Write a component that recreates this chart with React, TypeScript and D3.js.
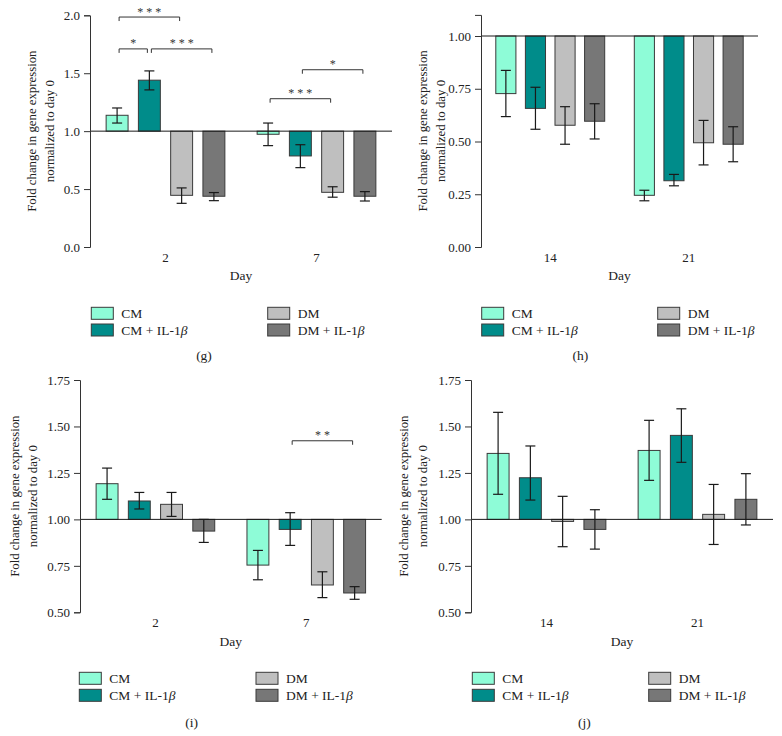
import React, { useEffect, useRef } from "react";
import * as d3 from "d3";

const FONT = "'Liberation Serif', 'Times New Roman', serif";

const seriesNames = ["CM", "CM + IL-1β", "DM", "DM + IL-1β"];
const seriesColors = ["#8efcd7", "#008c8a", "#bfbfbf", "#777777"];

// Panel (g)
const daysG = ["2", "7"];
const meanG = [[1.137, 1.44, 0.446, 0.438], [0.973, 0.786, 0.472, 0.438]];
const hiG = [[1.2, 1.52, 0.51, 0.47], [1.07, 0.883, 0.52, 0.478]];
const loG = [[1.07, 1.356, 0.377, 0.4], [0.875, 0.685, 0.43, 0.397]];
const ticksG = [0, 0.5, 1, 1.5, 2];
const bracketsG = [
  { day: 0, from: 0, to: 2, level: 1.985, label: "***" },
  { day: 0, from: 0, to: 1, level: 1.71, label: "*" },
  { day: 0, from: 1, to: 3, level: 1.71, label: "***" },
  { day: 1, from: 1, to: 3, level: 1.53, label: "*" },
  { day: 1, from: 0, to: 2, level: 1.28, label: "***" },
];

// Panel (h)
const daysH = ["14", "21"];
const meanH = [[0.727, 0.657, 0.577, 0.596], [0.245, 0.314, 0.494, 0.487]];
const hiH = [[0.837, 0.757, 0.665, 0.679], [0.269, 0.344, 0.6, 0.57]];
const loH = [[0.618, 0.558, 0.487, 0.512], [0.219, 0.29, 0.389, 0.404]];
const ticksH = [0, 0.25, 0.5, 0.75, 1];

// Panel (i)
const daysI = ["2", "7"];
const meanI = [[1.192, 1.099, 1.081, 0.937], [0.754, 0.946, 0.647, 0.604]];
const hiI = [[1.276, 1.145, 1.145, 1.0], [0.833, 1.036, 0.718, 0.638]];
const loI = [[1.108, 1.056, 1.016, 0.876], [0.675, 0.86, 0.579, 0.57]];
const ticksIJ = [0.5, 0.75, 1, 1.25, 1.5, 1.75];
const bracketsI = [{ day: 1, from: 1, to: 3, level: 1.423, label: "**" }];

// Panel (j)
const daysJ = ["14", "21"];
const meanJ = [[1.355, 1.224, 0.989, 0.946], [1.371, 1.452, 1.027, 1.108]];
const hiJ = [[1.576, 1.395, 1.124, 1.052], [1.533, 1.595, 1.188, 1.246]];
const loJ = [[1.135, 1.104, 0.853, 0.84], [1.21, 1.307, 0.865, 0.97]];

type Bracket = { day: number; from: number; to: number; level: number; label: string };

type PanelProps = {
  tag: string;
  days: string[];
  mean: number[][];
  hi: number[][];
  lo: number[][];
  ticks: number[];
  fmt: string;
  domain: [number, number];
  brackets: Bracket[];
  xr: [number, number];
  yr: [number, number];
  titleDx: [number, number];
  legendCols: [number, number];
  legendRows: [number, number];
  labelPos: [number, number];
};

function Panel(p: PanelProps) {
  const axisRef = useRef<SVGGElement>(null);
  const x = d3.scaleBand<string>().domain(p.days).range(p.xr).paddingInner(0).paddingOuter(0);
  const inner = d3
    .scaleBand<string>()
    .domain(seriesNames)
    .range([0, x.bandwidth()])
    .paddingInner(0.32)
    .paddingOuter(0.5);
  const y = d3.scaleLinear().domain(p.domain).range(p.yr);
  const bw = inner.bandwidth();
  const base = y(1);

  useEffect(() => {
    if (!axisRef.current) return;
    const g = d3.select(axisRef.current);
    g.selectAll("*").remove();
    g.call(
      d3
        .axisLeft(y)
        .tickValues(p.ticks)
        .tickFormat(d3.format(p.fmt) as any)
        .tickSizeOuter(0)
        .tickSize(6)
        .tickPadding(4)
    );
    g.attr("font-family", FONT).attr("font-size", 13);
    g.select(".domain").attr("stroke", "#333").attr("stroke-width", 1);
    g.selectAll(".tick line").attr("stroke", "#333");
    g.selectAll(".tick text").attr("fill", "#222");
  }, []);

  const cx = (d: number, s: number) => (x(p.days[d]) as number) + (inner(seriesNames[s]) as number) + bw / 2;
  const midY = (p.yr[0] + p.yr[1]) / 2;
  const midX = (p.xr[0] + p.xr[1]) / 2;

  return (
    <g>
      {p.days.map((day, di) =>
        seriesNames.map((s, si) => {
          const v = p.mean[di][si];
          const yv = y(v);
          const x0 = (x(day) as number) + (inner(s) as number);
          return (
            <rect
              key={day + s}
              x={x0}
              y={Math.min(yv, base)}
              width={bw}
              height={Math.abs(yv - base)}
              fill={seriesColors[si]}
              stroke="#3a3a3a"
              strokeWidth={1}
            />
          );
        })
      )}
      {p.days.map((day, di) =>
        seriesNames.map((s, si) => {
          const c = cx(di, si);
          const yh = y(p.hi[di][si]);
          const yl = y(p.lo[di][si]);
          return (
            <g key={"e" + day + s} stroke="#1a1a1a" strokeWidth={1.2}>
              <line x1={c} x2={c} y1={yh} y2={yl} />
              <line x1={c - 5} x2={c + 5} y1={yh} y2={yh} />
              <line x1={c - 5} x2={c + 5} y1={yl} y2={yl} />
            </g>
          );
        })
      )}
      <line x1={p.xr[0]} x2={p.xr[1]} y1={base} y2={base} stroke="#1a1a1a" strokeWidth={1} />
      <g ref={axisRef} transform={`translate(${p.xr[0]},0)`} />
      {p.days.map((day) => (
        <text
          key={"xl" + day}
          x={(x(day) as number) + x.bandwidth() / 2}
          y={p.yr[0] + 14.5}
          textAnchor="middle"
          fontFamily={FONT}
          fontSize={13}
          fill="#222"
        >
          {day}
        </text>
      ))}
      <text x={midX} y={p.yr[0] + 33.2} textAnchor="middle" fontFamily={FONT} fontSize={13.5} fill="#222">
        Day
      </text>
      <g fontFamily={FONT} fontSize={12.8} fill="#222" textAnchor="middle">
        <text transform={`translate(${p.xr[0] + p.titleDx[0] + 4},${midY}) rotate(-90)`}>
          Fold change in gene expression
        </text>
        <text transform={`translate(${p.xr[0] + p.titleDx[1] + 4},${midY}) rotate(-90)`}>
          normalized to day 0
        </text>
      </g>
      {p.brackets.map((b, i) => {
        const x1 = cx(b.day, b.from) + 2;
        const x2 = cx(b.day, b.to) - 2;
        const yb = y(b.level);
        return (
          <g key={"b" + i}>
            <path
              d={`M${x1},${yb + 4}V${yb}H${x2}V${yb + 4}`}
              fill="none"
              stroke="#333"
              strokeWidth={1}
            />
            <text
              x={(x1 + x2) / 2 + 1.5}
              y={yb - 1.5}
              textAnchor="middle"
              fontFamily={FONT}
              fontSize={12}
              letterSpacing={3}
              fill="#333"
            >
              {b.label}
            </text>
          </g>
        );
      })}
      {seriesNames.map((s, si) => {
        const col = Math.floor(si / 2);
        const row = si % 2;
        const lx = p.legendCols[col];
        const ly = p.legendRows[row];
        const parts = s.split("β");
        return (
          <g key={"lg" + s}>
            <rect x={lx} y={ly} width={22} height={12} fill={seriesColors[si]} stroke="#3a3a3a" strokeWidth={1} />
            <text x={lx + 30} y={ly + 10.5} fontFamily={FONT} fontSize={13.5} fill="#222">
              {parts[0]}
              {parts.length > 1 ? <tspan fontStyle="italic">β</tspan> : null}
            </text>
          </g>
        );
      })}
      <text
        x={p.labelPos[0]}
        y={p.labelPos[1]}
        textAnchor="middle"
        fontFamily={FONT}
        fontSize={13.5}
        fill="#222"
      >
        {p.tag}
      </text>
    </g>
  );
}

export default function App() {
  return (
    <svg
      width={782}
      height={736}
      viewBox="0 0 782 736"
      style={{ position: "absolute", left: 0, top: 0, background: "#fff" }}
    >
      <rect x={0} y={0} width={782} height={736} fill="#fff" />
      <Panel
        tag="(g)"
        days={daysG}
        mean={meanG}
        hi={hiG}
        lo={loG}
        ticks={ticksG}
        fmt=".1f"
        domain={[0, 2]}
        brackets={bracketsG}
        xr={[90, 392]}
        yr={[247, 15.3]}
        titleDx={[-58, -40]}
        legendCols={[91.3, 267.7]}
        legendRows={[307.3, 324]}
        labelPos={[204, 360]}
      />
      <Panel
        tag="(h)"
        days={daysH}
        mean={meanH}
        hi={hiH}
        lo={loH}
        ticks={ticksH}
        fmt=".2f"
        domain={[0, 1.1]}
        brackets={[]}
        xr={[481, 758]}
        yr={[247, 14.9]}
        titleDx={[-58, -40]}
        legendCols={[481.7, 657.7]}
        legendRows={[307.3, 324]}
        labelPos={[580.3, 360]}
      />
      <Panel
        tag="(i)"
        days={daysI}
        mean={meanI}
        hi={hiI}
        lo={loI}
        ticks={ticksIJ}
        fmt=".2f"
        domain={[0.5, 1.75]}
        brackets={bracketsI}
        xr={[80, 381.7]}
        yr={[612.3, 380]}
        titleDx={[-65, -47]}
        legendCols={[79.3, 256]}
        legendRows={[672.3, 689.3]}
        labelPos={[191.7, 727]}
      />
      <Panel
        tag="(j)"
        days={daysJ}
        mean={meanJ}
        hi={hiJ}
        lo={loJ}
        ticks={ticksIJ}
        fmt=".2f"
        domain={[0.5, 1.75]}
        brackets={[]}
        xr={[471, 773]}
        yr={[612.3, 380]}
        titleDx={[-67, -48]}
        legendCols={[472.3, 648.7]}
        legendRows={[672.3, 689.3]}
        labelPos={[584.3, 727]}
      />
    </svg>
  );
}
